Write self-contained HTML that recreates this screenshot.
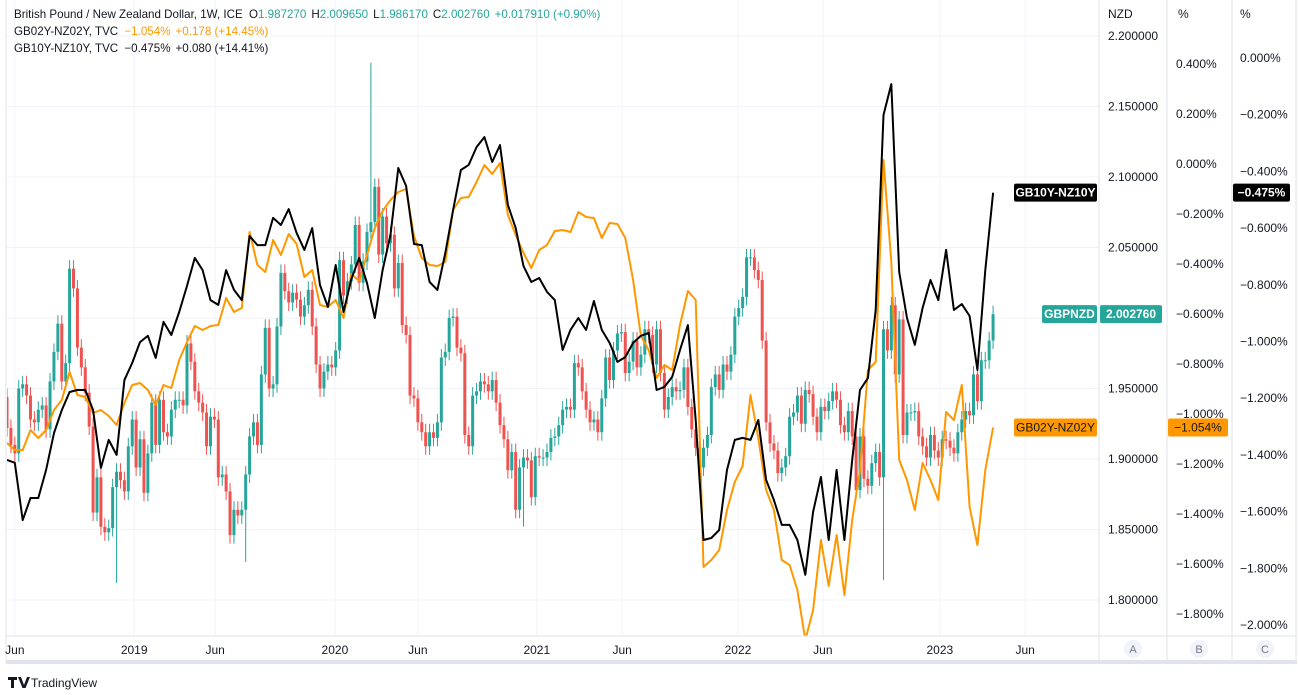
<!DOCTYPE html>
<html><head><meta charset="utf-8"><style>
html,body{margin:0;padding:0;background:#fff;}
svg{display:block;font-family:"Liberation Sans",sans-serif;}
</style></head><body>
<svg id="chart" width="1298" height="695" viewBox="0 0 1298 695" xmlns="http://www.w3.org/2000/svg">
<defs><clipPath id="plotClip"><rect x="7" y="0" width="1092" height="636"/></clipPath></defs>
<rect x="0" y="0" width="1298" height="695" fill="#fff"/>
<g id="grid"></g>
<g id="candles" clip-path="url(#plotClip)"></g>
<g id="lines" clip-path="url(#plotClip)"></g>
<g id="axes"></g>
<g font-size="11.6">
<text x="14" y="18" fill="#131722">British Pound / New Zealand Dollar, 1W, ICE <tspan dx="3">O</tspan><tspan fill="#26a69a">1.987270</tspan><tspan dx="5">H</tspan><tspan fill="#26a69a">2.009650</tspan><tspan dx="5">L</tspan><tspan fill="#26a69a">1.986170</tspan><tspan dx="5">C</tspan><tspan fill="#26a69a">2.002760</tspan><tspan dx="5" fill="#26a69a">+0.017910 (+0.90%)</tspan></text>
<text x="14" y="35" fill="#131722">GB02Y-NZ02Y, TVC <tspan dx="3" fill="#ff9800">−1.054%</tspan><tspan dx="5" fill="#ff9800">+0.178 (+14.45%)</tspan></text>
<text x="14" y="52" fill="#131722">GB10Y-NZ10Y, TVC <tspan dx="3">−0.475%</tspan><tspan dx="5">+0.080 (+14.41%)</tspan></text>
</g>
<g>
<path d="M8 677h9v3h-3v8h-3v-8h-3z M18 677h3l3 8 3-8h3l-4.5 11h-3z" fill="#131722"/>
<text x="31" y="687" font-size="12" fill="#131722">TradingView</text>
</g>
</svg>
<script>
// ---------- data ----------
const firstOpen = 1.944;
const closes = [
1.922,1.910,1.904,1.950,1.953,1.945,1.928,1.926,1.935,1.938,
1.921,1.955,1.976,1.996,1.955,1.968,2.035,2.021,1.979,1.965,
1.947,1.923,1.862,1.887,1.852,1.848,1.851,1.880,1.891,1.885,
1.877,1.909,1.928,1.894,1.914,1.876,1.904,1.940,1.910,1.942,
1.919,1.916,1.935,1.942,1.942,1.938,1.982,1.969,1.948,1.940,
1.933,1.909,1.930,1.928,1.887,1.889,1.877,1.846,1.864,1.860,
1.864,1.889,1.916,1.926,1.910,1.960,1.993,1.950,1.953,1.994,
2.032,2.019,2.011,2.018,2.013,2.001,2.009,2.020,1.994,1.967,
1.950,1.962,1.967,1.965,1.977,2.041,2.016,2.026,2.038,2.066,
2.025,2.040,2.061,2.068,2.093,2.045,2.072,2.053,2.059,2.021,
2.039,1.995,1.988,1.945,1.943,1.926,1.919,1.909,1.919,1.915,
1.926,1.972,1.976,2.000,2.001,1.979,1.975,1.917,1.909,1.945,
1.948,1.955,1.953,1.948,1.956,1.940,1.924,1.914,1.892,1.905,
1.864,1.894,1.901,1.899,1.873,1.902,1.901,1.901,1.905,1.915,
1.916,1.924,1.935,1.937,1.935,1.968,1.965,1.948,1.935,1.926,
1.928,1.919,1.943,1.972,1.956,1.977,1.989,1.990,1.961,1.969,
1.984,1.965,1.974,1.992,1.988,1.967,1.992,1.961,1.935,1.944,
1.951,1.948,1.949,1.965,1.937,1.921,1.908,1.894,1.908,1.917,
1.951,1.960,1.949,1.967,1.962,1.974,2.001,2.007,2.015,2.043,
2.043,2.034,2.027,1.984,1.926,1.911,1.906,1.890,1.894,1.902,
1.930,1.933,1.945,1.925,1.949,1.946,1.930,1.919,1.937,1.934,
1.941,1.948,1.942,1.924,1.919,1.934,1.916,1.878,1.916,1.886,
1.881,1.897,1.905,1.887,1.992,1.977,2.009,1.960,1.999,1.917,
1.933,1.933,1.934,1.916,1.909,1.901,1.917,1.906,1.901,1.914,
1.913,1.908,1.904,1.919,1.928,1.934,1.931,1.960,1.941,1.970,
1.970,1.984,2.00276];
const wickHighIdx = [93];
const wickHighVal = [2.181];
const wickLowIdx = [28,61,132,224];
const wickLowVal = [1.812,1.827,1.852,1.814];
// spreads sampled every 2 weeks
const gb10y = [
-1.418,-1.428,-1.630,-1.552,-1.552,-1.453,-1.323,-1.242,-1.178,-1.171,
-1.171,-1.242,-1.446,-1.347,-1.400,-1.136,-1.076,-1.002,-0.980,-1.058,
-0.931,-0.977,-0.896,-0.804,-0.705,-0.748,-0.854,-0.871,-0.748,-0.818,
-0.854,-0.628,-0.660,-0.660,-0.564,-0.589,-0.533,-0.617,-0.677,-0.600,
-0.801,-0.878,-0.730,-0.896,-0.780,-0.705,-0.794,-0.917,-0.748,-0.624,
-0.388,-0.451,-0.656,-0.660,-0.790,-0.818,-0.688,-0.536,-0.395,-0.377,
-0.314,-0.279,-0.367,-0.307,-0.518,-0.600,-0.734,-0.790,-0.776,-0.825,
-0.854,-1.030,-0.959,-0.917,-0.959,-0.857,-0.959,-1.005,-1.072,-1.055,
-1.005,-0.980,-0.970,-1.171,-1.160,-1.125,-1.030,-0.942,-1.277,-1.700,
-1.693,-1.665,-1.453,-1.347,-1.340,-1.347,-1.277,-1.488,-1.559,-1.647,
-1.647,-1.700,-1.823,-1.601,-1.478,-1.700,-1.453,-1.700,-1.418,-1.171,
-1.129,-0.889,-0.201,-0.092,-0.755,-0.917,-1.012,-0.882,-0.783,-0.854,
-0.677,-0.889,-0.868,-0.910,-1.100,-0.748,-0.475];
const gb02y = [
-1.116,-1.144,-1.144,-1.064,-1.096,-1.064,-0.984,-0.944,-0.832,-0.924,
-0.932,-0.996,-0.984,-1.008,-1.044,-0.956,-0.884,-0.876,-0.904,-0.964,
-0.884,-0.896,-0.784,-0.712,-0.648,-0.664,-0.648,-0.644,-0.536,-0.592,
-0.576,-0.272,-0.404,-0.432,-0.304,-0.364,-0.280,-0.320,-0.452,-0.424,
-0.564,-0.572,-0.544,-0.616,-0.440,-0.468,-0.364,-0.256,-0.188,-0.144,
-0.112,-0.100,-0.288,-0.376,-0.404,-0.408,-0.392,-0.184,-0.136,-0.132,
-0.072,-0.004,-0.040,0.004,-0.204,-0.284,-0.356,-0.416,-0.344,-0.324,
-0.268,-0.264,-0.272,-0.192,-0.212,-0.216,-0.296,-0.236,-0.240,-0.296,
-0.464,-0.688,-0.744,-0.856,-0.804,-0.824,-0.644,-0.508,-0.544,-1.612,
-1.584,-1.544,-1.384,-1.272,-1.208,-0.924,-1.096,-1.304,-1.384,-1.584,
-1.604,-1.704,-1.904,-1.784,-1.504,-1.688,-1.484,-1.724,-1.424,-1.224,
-0.824,-0.792,0.016,-0.392,-1.184,-1.264,-1.384,-1.196,-1.264,-1.344,
-0.992,-1.024,-0.884,-1.372,-1.524,-1.224,-1.054];
const nzdTicks = [2.2,2.15,2.1,2.05,2.0,1.95,1.9,1.85,1.8];
const bTicks = [0.4,0.2,0,-0.2,-0.4,-0.6,-0.8,-1.0,-1.2,-1.4,-1.6,-1.8];
const cTicks = [0,-0.2,-0.4,-0.6,-0.8,-1.0,-1.2,-1.4,-1.6,-1.8,-2.0];
const timeLabels = ["Jun","2019","Jun","2020","Jun","2021","Jun","2022","Jun","2023","Jun"];
const timeWeeks = [2.0,32.5,53.2,83.8,105,135.4,157.2,186.8,208.5,238.4,260.2];

// ---------- scales ----------
const xOf = w => 7 + w*3.913;
const yN = v => 318 - (v-2)*1410;
const yB = v => 164 - v*250;
const yC = v => 58 - v*283.5;
const NS = "http://www.w3.org/2000/svg";
function mk(tag, attrs, parent){const e=document.createElementNS(NS,tag);for(const k in attrs)e.setAttribute(k,attrs[k]);parent.appendChild(e);return e;}
const fmtP = v => (v<0?"−":"")+Math.abs(v).toFixed(3)+"%";

// ---------- grid ----------
const grid = document.getElementById('grid');
nzdTicks.forEach(t=>{const l=mk('line',{x1:7,x2:1099,y1:yN(t),y2:yN(t),stroke:'#f0f3fa','stroke-width':1},grid);

});
timeWeeks.forEach(w=>{const l=mk('line',{x1:xOf(w),x2:xOf(w),y1:0,y2:636,stroke:'#f0f3fa','stroke-width':1},grid);

});

// ---------- candles ----------
const cg = document.getElementById('candles');
closes.forEach((c,i)=>{
  const o = i===0?firstOpen:closes[i-1];
  const up = c>=o;
  const col = up?'#26a69a':'#ef5350';
  let hi = Math.max(o,c)+0.006, lo = Math.min(o,c)-0.006;
  const hIdx = wickHighIdx.indexOf(i); if(hIdx>=0) hi = wickHighVal[hIdx];
  const lIdx = wickLowIdx.indexOf(i); if(lIdx>=0) lo = wickLowVal[lIdx];
  const x = xOf(i);
  const g = mk('g',{},cg);
  
  
  mk('line',{x1:x,x2:x,y1:yN(hi),y2:yN(lo),stroke:col,'stroke-width':1},g);
  const top = yN(Math.max(o,c)), bot = yN(Math.min(o,c));
  mk('rect',{x:x-1.5,y:top,width:3,height:Math.max(1,bot-top),fill:col},g);
});

// ---------- lines ----------
const lg = document.getElementById('lines');
function drawLine(vals, yf, col, name){
  const d = vals.map((v,k)=>(k?'L':'M')+xOf(2*k).toFixed(1)+' '+yf(v).toFixed(1)).join(' ');
  const p = mk('path',{d:d,fill:'none',stroke:col,'stroke-width':2,'stroke-linejoin':'round'},lg);
  
  
}
drawLine(gb02y, yB, '#ff9800', 'gb02y-nz02y-line');
drawLine(gb10y, yC, '#000000', 'gb10y-nz10y-line');

// ---------- axes ----------
const ax = document.getElementById('axes');
[[6,0,6,663],[1099,0,1099,663],[1167,0,1167,663],[1232,0,1232,663],[1296,0,1296,663],[6,636,1296,636]].forEach(a=>{
  const l=mk('line',{x1:a[0],y1:a[1],x2:a[2],y2:a[3],stroke:'#e0e3eb','stroke-width':1},ax);
  
  
});
const bb = mk('rect',{x:6,y:660,width:1291,height:4,fill:'#e0e3eb'},ax);


function txt(x,y,s,attrs,name,inter){const t=mk('text',Object.assign({x:x,y:y,'font-size':12,fill:'#131722'},attrs||{}),ax);t.textContent=s;

return t;}
txt(1108,18,'NZD',{},'nzd-axis-unit');
txt(1178,18,'%',{},'b-axis-unit');
txt(1240,18,'%',{},'c-axis-unit');
nzdTicks.forEach(t=>txt(1108,yN(t)+4,t.toFixed(6),{},'nzd-tick-label'));
bTicks.forEach(t=>txt(1176,yB(t)+4,fmtP(t),{},'b-tick-label'));
cTicks.forEach(t=>txt(1240,yC(t)+4,fmtP(t),{},'c-tick-label'));
timeLabels.forEach((s,i)=>txt(xOf(timeWeeks[i]),654,s,{'text-anchor':'middle'},'time-tick-label'));
['A','B','C'].forEach((s,i)=>{const cx=[1133,1199,1265][i];
  const c=mk('circle',{cx:cx,cy:649,r:9,fill:'#f0f3fa'},ax);
  
  
  txt(cx,653,s,{'text-anchor':'middle','font-size':11,fill:'#787b86'},'scale-button-label',true);});

// price labels
function tag(x,y,w,bg,fg,s,name,bold){
  const r=mk('rect',{x:x,y:y-9,width:w,height:18,rx:2,fill:bg},ax);
  
  
  txt(x+w/2,y+4,s,{'text-anchor':'middle',fill:fg,'font-weight':bold?'bold':'normal'},name);
}
const lastC = closes[closes.length-1], last10 = gb10y[gb10y.length-1], last02 = gb02y[gb02y.length-1];
tag(1014,yC(last10),83,'#000','#fff','GB10Y-NZ10Y','gb10y-series-tag',true);
tag(1233,yC(last10),57,'#000','#fff',fmtP(last10),'gb10y-price-tag',true);
tag(1042,yN(lastC),55,'#26a69a','#fff','GBPNZD','gbpnzd-series-tag',true);
tag(1100,yN(lastC),62,'#26a69a','#fff',lastC.toFixed(6),'gbpnzd-price-tag',true);
tag(1014,yB(last02),83,'#ff9800','#131722','GB02Y-NZ02Y','gb02y-series-tag',false);
tag(1168,yB(last02),60,'#ff9800','#131722',fmtP(last02),'gb02y-price-tag',false);
</script>
</body></html>
